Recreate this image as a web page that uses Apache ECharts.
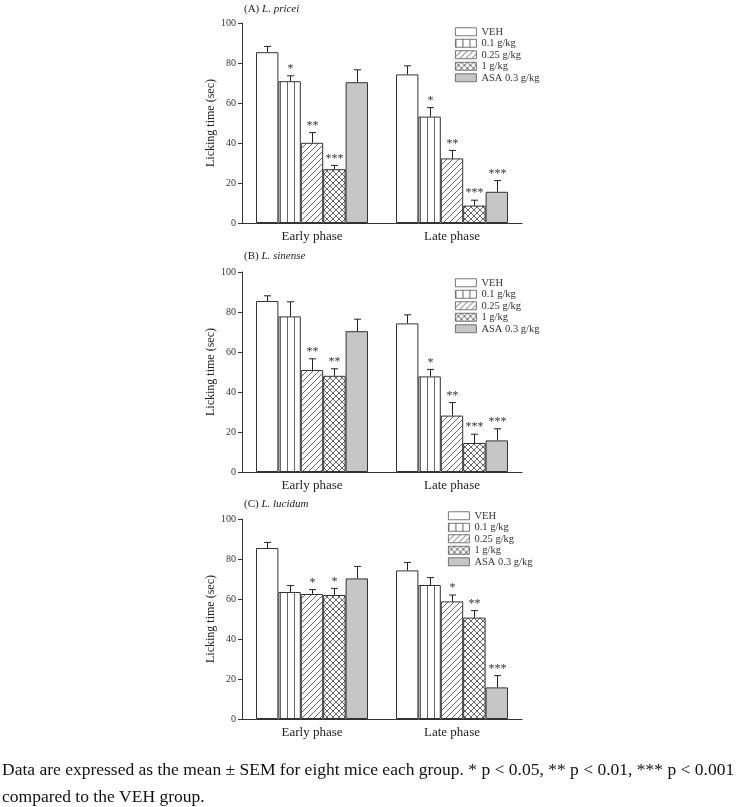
<!DOCTYPE html>
<html>
<head>
<meta charset="utf-8">
<script src="https://cdn.jsdelivr.net/npm/echarts@6/dist/echarts.min.js"></script>
<style>
  html, body { margin: 0; padding: 0; background: #fff; }
  #chart { width: 743px; height: 807px; }
</style>
</head>
<body>
<div id="chart"></div>
<script>
// 组别和阶段
const groups = ['VEH', '0.1 g/kg', '0.25 g/kg', '1 g/kg', 'ASA 0.3 g/kg'];
const phases = ['Early phase', 'Late phase'];
const yTicks = [0, 20, 40, 60, 80, 100];

// (A) L. pricei  -- [phase][group]
const priceiMean = [[85.4, 70.9, 40.1, 26.9, 70.4], [74.3, 53.2, 32.3, 8.7, 15.6]];
const priceiSem = [[2.9, 2.7, 5.1, 1.9, 6.2], [4.3, 4.5, 4.0, 2.7, 5.6]];
const priceiStars = [['', '*', '**', '***', ''], ['', '*', '**', '***', '***']];

// (B) L. sinense
const sinenseMean = [[85.5, 77.8, 51.0, 48.1, 70.4], [74.3, 47.8, 28.2, 14.5, 15.8]];
const sinenseSem = [[2.6, 7.3, 5.6, 3.5, 6.0], [4.3, 3.5, 6.5, 4.4, 5.8]];
const sinenseStars = [['', '', '**', '**', ''], ['', '*', '**', '***', '***']];

// (C) L. lucidum
const lucidumMean = [[85.5, 63.5, 62.5, 62.0, 70.3], [74.3, 67.0, 58.8, 50.7, 15.8]];
const lucidumSem = [[2.8, 3.2, 2.2, 3.3, 6.0], [4.0, 3.7, 3.2, 3.5, 5.9]];
const lucidumStars = [['', '', '*', '*', ''], ['', '', '*', '**', '***']];

const panels = [
  { tag: '(A) ', name: 'L. pricei', mean: priceiMean, sem: priceiSem, stars: priceiStars, top: 23, titleTop: 4, legendLeft: 455, legendTop: 26 },
  { tag: '(B) ', name: 'L. sinense', mean: sinenseMean, sem: sinenseSem, stars: sinenseStars, top: 272, titleTop: 251, legendLeft: 455, legendTop: 277 },
  { tag: '(C) ', name: 'L. lucidum', mean: lucidumMean, sem: lucidumSem, stars: lucidumStars, top: 519, titleTop: 499, legendLeft: 448, legendTop: 510 }
];

const font = 'Liberation Serif';
const edge = '#333';

// 填充图案
function makeTile(size, draw) {
  const c = document.createElement('canvas');
  c.width = size; c.height = size;
  const ctx = c.getContext('2d');
  ctx.fillStyle = '#fff';
  ctx.fillRect(0, 0, size, size);
  ctx.strokeStyle = '#555';
  ctx.lineWidth = 0.9;
  draw(ctx, size);
  return { image: c, repeat: 'repeat' };
}
function diag(ctx, s) {
  ctx.beginPath();
  ctx.moveTo(-1, s + 1); ctx.lineTo(s + 1, -1);
  ctx.moveTo(-1, 1); ctx.lineTo(1, -1);
  ctx.moveTo(s - 1, s + 1); ctx.lineTo(s + 1, s - 1);
  ctx.stroke();
}
function antiDiag(ctx, s) {
  ctx.beginPath();
  ctx.moveTo(-1, -1); ctx.lineTo(s + 1, s + 1);
  ctx.moveTo(s - 1, -1); ctx.lineTo(s + 1, 1);
  ctx.moveTo(-1, s - 1); ctx.lineTo(1, s + 1);
  ctx.stroke();
}
const fills = [
  '#fff',
  makeTile(7, function (ctx, s) { ctx.beginPath(); ctx.moveTo(0.5, 0); ctx.lineTo(0.5, s); ctx.stroke(); }),
  makeTile(6, diag),
  makeTile(6, function (ctx, s) { diag(ctx, s); antiDiag(ctx, s); }),
  '#c6c6c6'
];

const chart = echarts.init(document.getElementById('chart'));

const option = {
  animation: false,
  backgroundColor: '#fff',
  title: [],
  legend: [],
  grid: [],
  xAxis: [],
  yAxis: [],
  series: []
};

panels.forEach(function (p, k) {
  option.title.push({
    text: p.tag + '{i|' + p.name + '}',
    left: 244, top: p.titleTop, padding: 0,
    textStyle: {
      fontFamily: font, fontSize: 11, fontWeight: 'normal', color: '#222',
      rich: { i: { fontFamily: font, fontSize: 11, fontStyle: 'italic', color: '#222' } }
    }
  });
  option.legend.push({
    data: groups, orient: 'vertical', left: p.legendLeft, top: p.legendTop,
    icon: 'rect', itemWidth: 21, itemHeight: 8, itemGap: 0, padding: 0, selectedMode: false,
    itemStyle: { borderWidth: 0.8, borderColor: '#555' },
    textStyle: { fontFamily: font, fontSize: 10.5, color: '#333', lineHeight: 11.5, height: 11.5 }
  });
  option.grid.push({ left: 242, width: 280, top: p.top, height: 200 });
  option.xAxis.push({
    type: 'category', gridIndex: k, data: phases,
    axisLine: { lineStyle: { color: edge, width: 1 } },
    axisTick: { show: false },
    axisLabel: { fontFamily: font, fontSize: 13, color: '#222', margin: 7 }
  });
  option.yAxis.push({
    type: 'value', gridIndex: k, min: yTicks[0], max: yTicks[yTicks.length - 1], interval: 20,
    name: 'Licking time (sec)', nameLocation: 'middle', nameGap: 24,
    nameTextStyle: { fontFamily: font, fontSize: 12, color: '#222' },
    axisLine: { show: true, lineStyle: { color: edge, width: 1 } },
    axisTick: { show: true, length: 4, lineStyle: { color: edge } },
    axisLabel: { fontFamily: font, fontSize: 10, color: '#333', margin: 6 },
    splitLine: { show: false }
  });

  groups.forEach(function (g, gi) {
    option.series.push({
      name: g, type: 'bar', xAxisIndex: k, yAxisIndex: k,
      data: phases.map(function (ph, pi) { return p.mean[pi][gi]; }),
      barGap: '0%', barCategoryGap: '20%',
      itemStyle: { color: fills[gi], borderColor: edge, borderWidth: 1 },
      emphasis: { disabled: true }
    });
  });

  // 误差线 + 星号
  const errData = [];
  const starText = [];
  phases.forEach(function (ph, pi) {
    groups.forEach(function (g, gi) {
      errData.push([pi, p.mean[pi][gi], p.sem[pi][gi], gi]);
      starText.push(p.stars[pi][gi]);
    });
  });
  option.series.push({
    type: 'custom', xAxisIndex: k, yAxisIndex: k, silent: true, z: 5,
    data: errData,
    renderItem: function (params, api) {
      const cat = api.value(0), mean = api.value(1), sem = api.value(2), gi = api.value(3);
      const band = api.size([1, 0])[0];
      const barW = band * 0.8 / groups.length;
      const base = api.coord([cat, mean]);
      const x = Math.round(base[0] - band / 2 + band * 0.1 + barW * (gi + 0.5)) + 0.5;
      const top = api.coord([cat, mean + sem])[1];
      const style = { stroke: '#222', lineWidth: 1 };
      const children = [
        { type: 'line', shape: { x1: x, y1: base[1], x2: x, y2: top }, style: style },
        { type: 'line', shape: { x1: x - 3.5, y1: top, x2: x + 3.5, y2: top }, style: style }
      ];
      const s = starText[params.dataIndex];
      if (s) {
        children.push({
          type: 'text', x: x, y: top - 1,
          style: { text: s, fontFamily: font, fontSize: 12, fill: '#333', align: 'center', verticalAlign: 'bottom' }
        });
      }
      return { type: 'group', children: children };
    }
  });
});

// 图注
option.title.push({
  text: 'Data are expressed as the mean \u00b1 SEM for eight mice each group. * p < 0.05, ** p < 0.01, *** p < 0.001\ncompared to the VEH group.',
  left: 2, top: 757, padding: 0,
  textStyle: { fontFamily: font, fontSize: 17.5, fontWeight: 'normal', color: '#111', lineHeight: 27 }
});

chart.setOption(option);
</script>
</body>
</html>
